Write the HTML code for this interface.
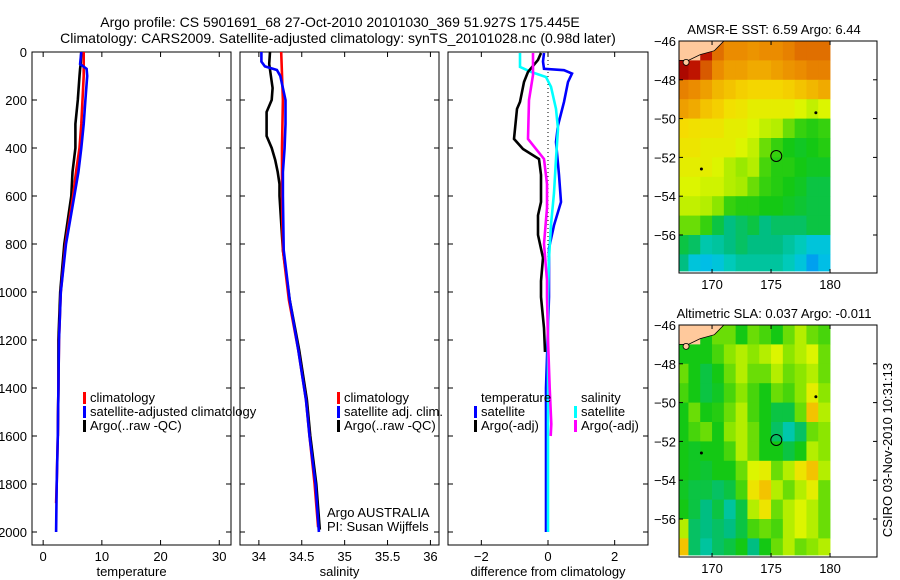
<!DOCTYPE html>
<html><head><meta charset="utf-8">
<style>
html,body{margin:0;padding:0;background:#fff;}
svg{display:block;font-family:"Liberation Sans",sans-serif;}
text{fill:#000;}
</style></head>
<body>
<svg id="chart" width="900" height="580" xmlns="http://www.w3.org/2000/svg">
<text x="340" y="27" font-size="14" text-anchor="middle">Argo profile: CS 5901691_68 27-Oct-2010 20101030_369 51.927S 175.445E</text>
<text x="338" y="43" font-size="14" text-anchor="middle">Climatology: CARS2009. Satellite-adjusted climatology: synTS_20101028.nc (0.98d later)</text>
<text transform="translate(892,450) rotate(-90)" font-size="13" text-anchor="middle">CSIRO 03-Nov-2010 10:31:13</text>
<g id="plots"></g>
</svg>
<script>
// ---- Temperature panel data ----
const depthArgoT = [0,50,70,100,200,300,400,500,600,800,1000,1200,1400,1600];
const argoT      = [6.5,6.4,6.3,6.2,5.9,5.5,5.5,5.0,4.8,3.6,2.9,2.6,2.6,2.5];
const depthClimT = [0,50,70,100,200,300,400,500,600,800,1000,1200,1400,1600,1800,1880];
const climT      = [6.9,6.9,6.9,6.9,6.7,6.5,6.2,5.6,5.1,3.8,3.0,2.7,2.6,2.5,2.3,2.2];
const depthSatT  = [0,50,70,100,200,300,400,500,600,800,1000,1200,1400,1600,1800,2000];
const satT       = [6.5,6.3,7.4,7.5,7.2,6.9,6.5,6.0,5.3,3.9,3.0,2.7,2.6,2.5,2.3,2.2];
const tempTicks  = [0,10,20,30];
// ---- Salinity panel data ----
const depthArgoS = [0,50,100,150,200,250,300,350,400,450,500,550,600,825,1033,1242,1450,1600,1800,1990];
const argoS      = [34.13,34.12,34.14,34.16,34.15,34.09,34.09,34.09,34.15,34.19,34.22,34.24,34.24,34.28,34.36,34.47,34.56,34.6,34.67,34.71];
const depthClimS = [0,200,400,600,825,1033,1242,1450,1600,1800,1980];
const climS      = [34.26,34.28,34.27,34.27,34.28,34.35,34.46,34.55,34.59,34.65,34.69];
const depthSatS  = [0,40,60,75,100,150,200,300,400,500,600,825,1033,1242,1450,1600,1800,2000];
const satS       = [34.03,34.03,34.07,34.21,34.25,34.28,34.31,34.31,34.3,34.28,34.28,34.29,34.36,34.46,34.55,34.59,34.66,34.7];
const salTicks   = [34,34.5,35,35.5,36];
// ---- Difference panel data ----
const depthArgoTd = [4,33,83,125,208,237,362,404,446,512,625,681,762,858,954,1021,1150,1250];
const argoTd      = [-0.21,-0.3,-0.6,-0.72,-0.84,-0.93,-1.02,-0.75,-0.27,-0.21,-0.21,-0.3,-0.3,-0.15,-0.21,-0.21,-0.12,-0.09];
const depthArgoSd = [4,96,200,362,446,550,650,800,950,1021,1200,1400,1550,1600];
const argoSd      = [-0.45,-0.45,-0.57,-0.6,-0.12,-0.03,-0.03,-0.12,-0.03,-0.03,0.0,0.05,0.1,0.08];
const depthSatSd  = [4,62,83,104,145,237,320,446,587,720,858,1021,1400,2000];
const satSd       = [-0.84,-0.84,-0.51,-0.06,0.09,0.24,0.3,0.24,0.18,0.09,0.03,0.0,0.0,0.0];
const depthSatTd  = [4,40,70,76,90,125,208,306,375,512,625,722,817,1021,1400,2000];
const satTd       = [-0.12,-0.15,-0.12,0.48,0.72,0.6,0.48,0.3,0.24,0.33,0.39,0.18,0.03,0.03,-0.06,-0.06];
const diffTicks   = [-2,0,2];
const depthTicks  = [0,200,400,600,800,1000,1200,1400,1600,1800,2000];
// ---- Map data (1-degree cells, rows lat -46..-58, cols lon 167..180; null = land) ----
const mapLats = [-46,-47,-48,-49,-50,-51,-52,-53,-54,-55,-56,-57];
const mapLons = [167,168,169,170,171,172,173,174,175,176,177,178,179];
const sstGrid = [
 [null,null,0.95,0.85,0.8,0.8,0.78,0.8,0.8,0.82,0.85,0.85,0.85],
 [0.98,0.95,0.88,0.8,0.75,0.75,0.72,0.72,0.75,0.78,0.8,0.82,0.82],
 [0.82,0.8,0.75,0.7,0.68,0.66,0.65,0.65,0.65,0.66,0.68,0.7,0.72],
 [0.75,0.72,0.68,0.66,0.63,0.62,0.6,0.6,0.6,0.6,0.58,0.56,0.58],
 [0.64,0.63,0.62,0.62,0.6,0.6,0.58,0.56,0.55,0.5,0.47,0.46,0.47],
 [0.62,0.62,0.6,0.6,0.6,0.58,0.56,0.5,0.47,0.45,0.44,0.45,0.46],
 [0.6,0.6,0.6,0.58,0.55,0.53,0.55,0.48,0.46,0.46,0.45,0.44,0.44],
 [0.58,0.58,0.57,0.57,0.55,0.54,0.5,0.47,0.46,0.45,0.44,0.42,0.42],
 [0.56,0.56,0.55,0.52,0.47,0.46,0.46,0.45,0.45,0.44,0.43,0.42,0.42],
 [0.5,0.5,0.47,0.42,0.38,0.4,0.42,0.38,0.4,0.4,0.4,0.42,0.42],
 [0.42,0.4,0.35,0.36,0.38,0.4,0.38,0.38,0.38,0.36,0.34,0.3,0.3],
 [0.38,0.3,0.28,0.3,0.34,0.36,0.36,0.36,0.36,0.34,0.3,0.25,0.28]];
const slaGrid = [
 [null,null,0.45,0.5,0.5,0.45,0.5,0.48,0.45,0.5,0.55,0.5,0.48],
 [0.45,0.45,0.45,0.48,0.52,0.55,0.52,0.55,0.58,0.52,0.55,0.58,0.5],
 [0.5,0.45,0.42,0.45,0.5,0.55,0.5,0.5,0.55,0.5,0.52,0.55,0.5],
 [0.48,0.45,0.42,0.44,0.48,0.52,0.48,0.45,0.5,0.48,0.52,0.6,0.52],
 [0.45,0.5,0.45,0.46,0.5,0.55,0.48,0.45,0.42,0.42,0.5,0.68,0.55],
 [0.45,0.48,0.5,0.45,0.52,0.55,0.5,0.45,0.4,0.35,0.4,0.5,0.52],
 [0.45,0.44,0.45,0.45,0.48,0.55,0.5,0.45,0.45,0.42,0.45,0.55,0.52],
 [0.45,0.44,0.43,0.45,0.45,0.5,0.58,0.6,0.5,0.55,0.62,0.68,0.55],
 [0.44,0.42,0.42,0.4,0.42,0.48,0.62,0.68,0.55,0.5,0.55,0.6,0.5],
 [0.45,0.42,0.38,0.42,0.36,0.42,0.55,0.62,0.5,0.55,0.58,0.55,0.5],
 [0.55,0.4,0.38,0.4,0.38,0.42,0.48,0.5,0.48,0.55,0.58,0.55,0.5],
 [0.68,0.4,0.36,0.4,0.42,0.45,0.38,0.45,0.5,0.55,0.5,0.52,0.55]];
const mapLatTicks = [-46,-48,-50,-52,-54,-56];
const mapLonTicks = [170,175,180];
const argoLon = 175.445, argoLat = -51.927;

const NS = 'http://www.w3.org/2000/svg';
const root = document.getElementById('plots');
function mk(tag, attrs, parent){ const e=document.createElementNS(NS,tag); for(const k in attrs) e.setAttribute(k,attrs[k]); (parent||root).appendChild(e); return e; }

const Y0=52, Y1=545, DMAX=(545-52)/0.24;
function yD(d){ return Y0 + d*0.24; }

function panel(name, x0, x1, vmin, vmax, ticks, tickFmt, xlabel, showY){
  const g = mk('g',{});
  
  
  const sx = v => x0 + (v-vmin)/(vmax-vmin)*(x1-x0);
  const frame = mk('rect',{x:x0,y:Y0,width:x1-x0,height:Y1-Y0,fill:'none',stroke:'#000','stroke-width':1},g);
  
  
  ticks.forEach(t=>{
    const x=sx(t);
    mk('line',{x1:x,y1:Y1,x2:x,y2:Y1-5,stroke:'#000'},g);
    mk('line',{x1:x,y1:Y0,x2:x,y2:Y0+5,stroke:'#000'},g);
    const tx = mk('text',{x:x,y:Y1+16,'font-size':13,'text-anchor':'middle'},g);
    tx.textContent = tickFmt(t);
    
    
  });
  depthTicks.forEach(d=>{
    const y=yD(d);
    mk('line',{x1:x0,y1:y,x2:x0+5,y2:y,stroke:'#000'},g);
    mk('line',{x1:x1,y1:y,x2:x1-5,y2:y,stroke:'#000'},g);
    if(showY){
      const ty = mk('text',{x:x0-5,y:y+5,'font-size':13,'text-anchor':'end'},g);
      ty.textContent = d;
      
      
    }
  });
  const xl = mk('text',{x:(x0+x1)/2,y:576,'font-size':13,'text-anchor':'middle'},g);
  xl.textContent = xlabel;
  
  
  return {g, sx};
}
function series(p, name, depths, vals, color){
  const pts = vals.map((v,i)=>p.sx(v).toFixed(1)+','+yD(depths[i]).toFixed(1)).join(' ');
  const l = mk('polyline',{points:pts,fill:'none',stroke:color,'stroke-width':2.6,'stroke-linejoin':'miter'},p.g);
  
  
}
function legend(g, x, y, color, label, name){
  if(color){
    const b = mk('rect',{x:x,y:y-10,width:3,height:12,fill:color},g);
    
    
  }
  const t = mk('text',{x:x+7,y:y,'font-size':13},g);
  t.textContent = label;
  
  
}

// Temperature
const p1 = panel('temperature-panel',32,231,-1.9,32,tempTicks,t=>String(t),'temperature',true);
series(p1,'argo-temperature-line',depthArgoT,argoT,'#000');
series(p1,'climatology-temperature-line',depthClimT,climT,'#ff0000');
series(p1,'satellite-temperature-line',depthSatT,satT,'#0000ff');
legend(p1.g,83,402,'#ff0000','climatology','legend-climatology');
legend(p1.g,83,416,'#0000ff','satellite-adjusted climatology','legend-satellite');
legend(p1.g,83,430,'#000','Argo(..raw -QC)','legend-argo');

// Salinity
const p2 = panel('salinity-panel',240,439,33.78,36.1,salTicks,t=>String(t),'salinity',false);
series(p2,'argo-salinity-line',depthArgoS,argoS,'#000');
series(p2,'climatology-salinity-line',depthClimS,climS,'#ff0000');
series(p2,'satellite-salinity-line',depthSatS,satS,'#0000ff');
legend(p2.g,337,402,'#ff0000','climatology','legend-climatology');
legend(p2.g,337,416,'#0000ff','satellite adj. clim.','legend-satellite');
legend(p2.g,337,430,'#000','Argo(..raw -QC)','legend-argo');
legend(p2.g,320,517,null,'Argo AUSTRALIA','argo-australia-label');
legend(p2.g,320,531,null,'PI: Susan Wijffels','pi-label');

// Difference
const p3 = panel('difference-panel',448,648,-3,3,diffTicks,t=>t<0?'\u2212'+(-t):String(t),'difference from climatology',false);
const zl = mk('line',{x1:p3.sx(0),y1:Y0,x2:p3.sx(0),y2:yD(2000),stroke:'#000','stroke-dasharray':'1,3'},p3.g);


series(p3,'satellite-temperature-diff-line',depthSatTd,satTd,'#0000ff');
series(p3,'satellite-salinity-diff-line',depthSatSd,satSd,'#00ffff');
series(p3,'argo-temperature-diff-line',depthArgoTd,argoTd,'#000');
series(p3,'argo-salinity-diff-line',depthArgoSd,argoSd,'#ff00ff');
legend(p3.g,474,402,null,'temperature','legend-temperature-header');
legend(p3.g,474,416,'#0000ff','satellite','legend-temp-satellite');
legend(p3.g,474,430,'#000','Argo(-adj)','legend-temp-argo');
legend(p3.g,574,402,null,'salinity','legend-salinity-header');
legend(p3.g,574,416,'#00ffff','satellite','legend-sal-satellite');
legend(p3.g,574,430,'#ff00ff','Argo(-adj)','legend-sal-argo');

// Colormap
const stops=[[0.2,[0,110,255]],[0.28,[0,190,230]],[0.33,[0,205,200]],[0.38,[0,190,130]],[0.45,[20,200,20]],[0.52,[140,230,0]],[0.58,[220,245,0]],[0.64,[245,220,0]],[0.72,[240,170,0]],[0.8,[235,140,0]],[0.87,[220,100,0]],[0.95,[190,20,0]],[1.0,[160,0,0]]];
function cmap(v){
  if(v<=stops[0][0]) return 'rgb('+stops[0][1]+')';
  for(let i=1;i<stops.length;i++){
    if(v<=stops[i][0]){
      const a=stops[i-1],b=stops[i],f=(v-a[0])/(b[0]-a[0]);
      return 'rgb('+a[1].map((c,k)=>Math.round(c+(b[1][k]-c)*f)).join(',')+')';
    }
  }
  return 'rgb('+stops[stops.length-1][1]+')';
}
function mapPanel(name, top, bottom, grid, title){
  const g = mk('g',{});
  
  
  const L=679,R=877, lonMin=167.2, pxDeg=11.8, latPx=19.4;
  const sx = lon => L + (lon-lonMin)*pxDeg;
  const sy = lat => top + (-46-lat)*latPx;
  grid.forEach((row,i)=>row.forEach((v,j)=>{
    const x0=Math.max(L,sx(mapLons[j])), x1=sx(mapLons[j]+1);
    const y0=sy(mapLats[i]), y1=Math.min(bottom-2,sy(mapLats[i]-1));
    const c = mk('rect',{x:x0,y:y0,width:x1-x0+0.4,height:y1-y0+0.4,fill:v===null?'#ffc99c':cmap(v)},g);
    
    
  }));
  const land = mk('polygon',{points:[sx(167.2),sy(-46),sx(171),sy(-46),sx(170.2),sy(-46.5),sx(169),sy(-46.7),sx(168,),sy(-47),sx(167.2),sy(-47)].join(' '),fill:'#ffc99c',stroke:'#000','stroke-width':0.8},g);
  
  
  const isl = mk('circle',{cx:sx(167.8),cy:sy(-47.1),r:3,fill:'#ffc99c',stroke:'#000','stroke-width':0.8},g);
  
  
  [[178.8,-49.7],[169.1,-52.6]].forEach(p=>{
    const d=mk('circle',{cx:sx(p[0]),cy:sy(p[1]),r:1.5,fill:'#000'},g);
    
    
  });
  const ring = mk('circle',{cx:sx(argoLon),cy:sy(argoLat),r:5.5,fill:'none',stroke:'#000','stroke-width':1},g);
  
  
  const fr = mk('rect',{x:L,y:top,width:R-L,height:bottom-top,fill:'none',stroke:'#000'},g);
  
  
  mapLatTicks.forEach(t=>{
    const y=sy(t);
    mk('line',{x1:L,y1:y,x2:L+4,y2:y,stroke:'#000'},g);
    mk('line',{x1:R,y1:y,x2:R-4,y2:y,stroke:'#000'},g);
    const tx=mk('text',{x:L-3,y:y+5,'font-size':13,'text-anchor':'end'},g);
    tx.textContent = '\u2212'+(-t);
    
    
  });
  mapLonTicks.forEach(t=>{
    const x=sx(t);
    mk('line',{x1:x,y1:bottom,x2:x,y2:bottom-4,stroke:'#000'},g);
    mk('line',{x1:x,y1:top,x2:x,y2:top+4,stroke:'#000'},g);
    const tx=mk('text',{x:x,y:bottom+16,'font-size':13,'text-anchor':'middle'},g);
    tx.textContent = t;
    
    
  });
  const tt=mk('text',{x:(L+R)/2-4,y:top-7,'font-size':13,'text-anchor':'middle'},g);
  tt.textContent = title;
  
  
}
mapPanel('sst-map',41,273,sstGrid,'AMSR-E SST: 6.59 Argo: 6.44');
mapPanel('sla-map',325,557,slaGrid,'Altimetric SLA: 0.037 Argo: -0.011');
</script>
</body></html>
